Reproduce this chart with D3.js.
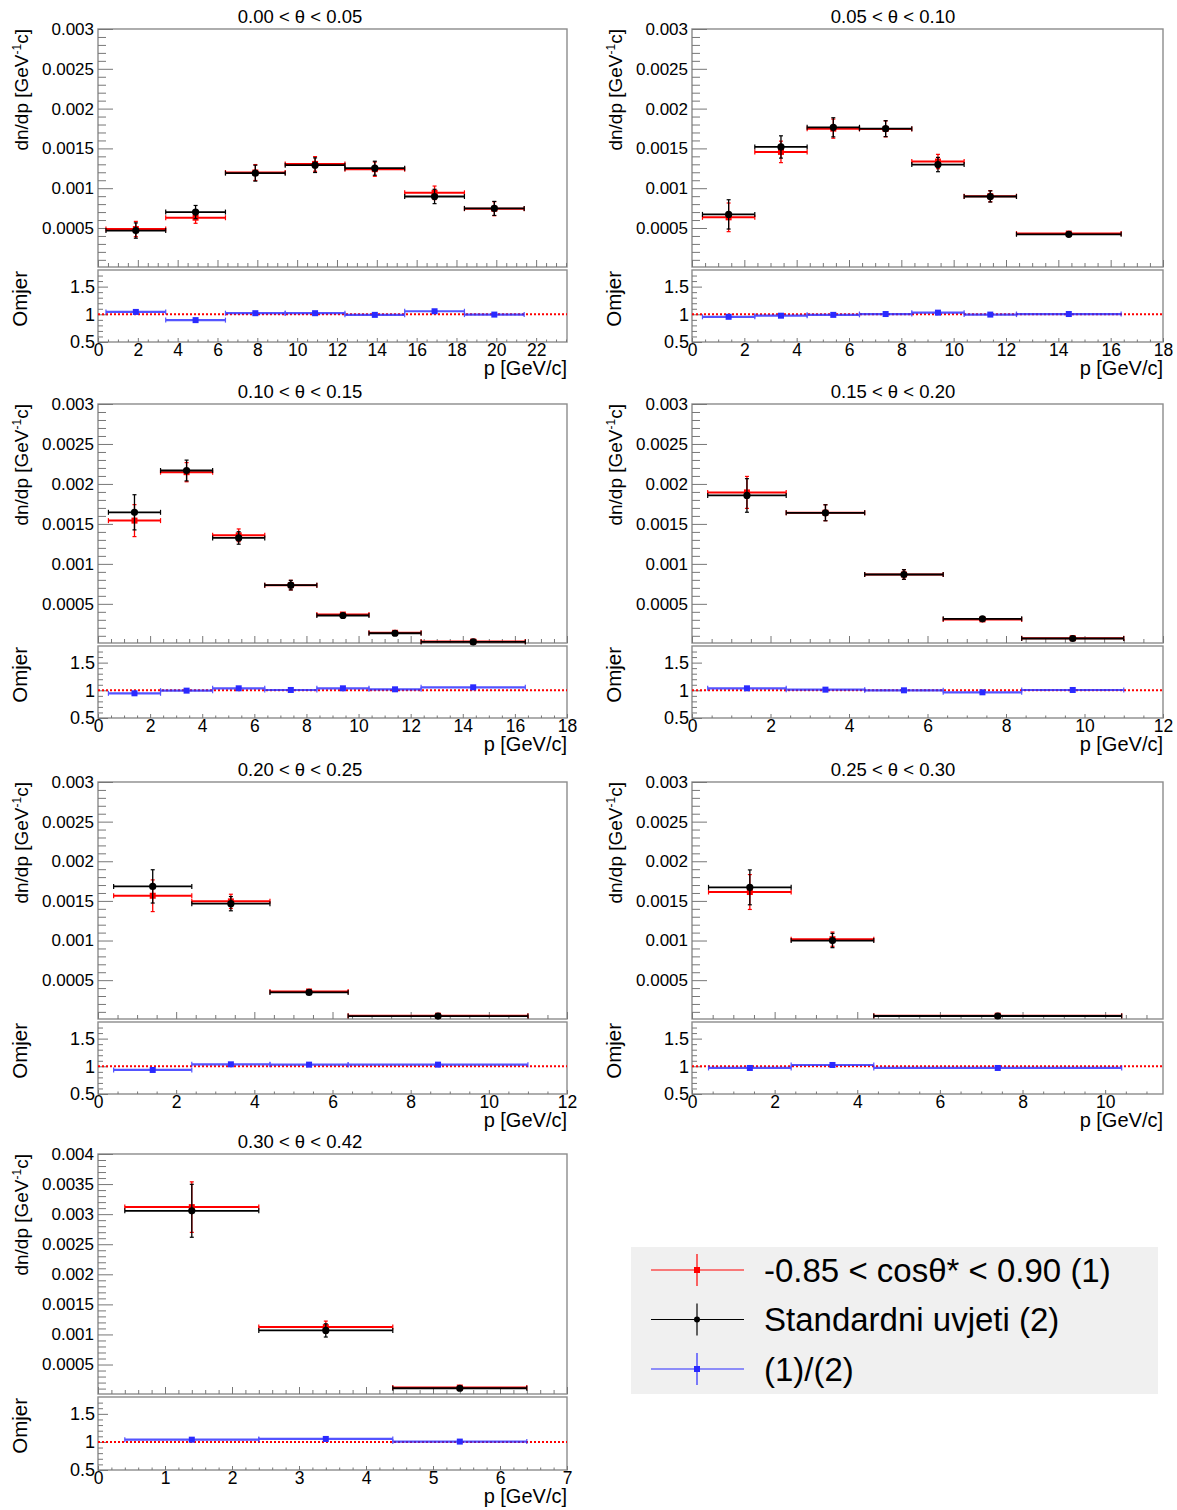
<!DOCTYPE html>
<html><head><meta charset="utf-8">
<script src="https://cdn.jsdelivr.net/npm/d3@7"></script>
<style>
body{margin:0;background:#fff}
svg{display:block}
text{font-family:"Liberation Sans",Arial,Helvetica,sans-serif;fill:#000}
</style>
</head><body>
<svg id="c" width="1177" height="1510"></svg>
<script>
// ---------------- DATA ----------------
const titles = ["0.00 < θ < 0.05","0.05 < θ < 0.10","0.10 < θ < 0.15","0.15 < θ < 0.20",
                "0.20 < θ < 0.25","0.25 < θ < 0.30","0.30 < θ < 0.42"];
const binEdges = [
  [0.4,3.4,6.4,9.4,12.4,15.4,18.4,21.4],
  [0.4,2.4,4.4,6.4,8.4,10.4,12.4,16.4],
  [0.4,2.4,4.4,6.4,8.4,10.4,12.4,16.4],
  [0.4,2.4,4.4,6.4,8.4,11.0],
  [0.4,2.4,4.4,6.4,11.0],
  [0.4,2.4,4.4,10.4],
  [0.4,2.4,4.4,6.4]
];
const xMax = [23.55,18,18,12,12,11.4,7];
const xMajorStep = [2,2,2,2,2,2,1];
const xMinorStep = [0.5,0.5,0.5,0.5,0.5,0.5,0.2];
const yMax = [0.003,0.003,0.003,0.003,0.003,0.003,0.004];
const ratioTicks = [0.5,1,1.5];

// series (1): -0.85 < cos theta* < 0.90  (red)
const cutVals = [
  [0.000487,0.000629,0.001197,0.001305,0.001239,0.000942,0.000742],
  [0.000634,0.001456,0.001748,0.001745,0.001335,0.000900,0.000430],
  [0.001541,0.002147,0.001357,0.000734,0.000366,0.000138,0.000028],
  [0.001894,0.001640,0.000867,0.000305,0.000070],
  [0.001565,0.001494,0.000357,0.000052],
  [0.001612,0.001017,0.000052],
  [0.003117,0.001122,0.000117]
];
const cutErrs = [
  [0.000096,0.000070,0.000100,0.000092,0.000090,0.000085,0.000088],
  [0.000180,0.000135,0.000120,0.000100,0.000090,0.000070,0.000020],
  [0.000200,0.000120,0.000080,0.000060,0.000020,0.000010,0.000005],
  [0.000200,0.000100,0.000060,0.000020,0.000010],
  [0.000200,0.000090,0.000020,0.000008],
  [0.000220,0.000090,0.000008],
  [0.000420,0.000100,0.000020]
];
// series (2): Standardni uvjeti (black)
const stdVals = [
  [0.000468,0.000700,0.001189,0.001289,0.001251,0.000896,0.000746],
  [0.000671,0.001518,0.001765,0.001748,0.001297,0.000896,0.000421],
  [0.001645,0.002168,0.001324,0.000734,0.000354,0.000132,0.000023],
  [0.001856,0.001639,0.000867,0.000312,0.000066],
  [0.001683,0.001465,0.000345,0.000047],
  [0.001671,0.001000,0.000048],
  [0.003056,0.001067,0.000106]
];
const stdErrs = [
  [0.000096,0.000083,0.000100,0.000092,0.000088,0.000090,0.000088],
  [0.000184,0.000140,0.000120,0.000100,0.000090,0.000070,0.000020],
  [0.000220,0.000130,0.000078,0.000060,0.000020,0.000010,0.000005],
  [0.000210,0.000100,0.000060,0.000020,0.000010],
  [0.000210,0.000090,0.000020,0.000008],
  [0.000220,0.000090,0.000008],
  [0.000440,0.000110,0.000020]
];
// ratio (1)/(2)  (blue)
const ratioVals = [
  [1.043,0.895,1.020,1.020,0.990,1.055,0.995],
  [0.955,0.975,0.990,1.005,1.030,0.995,1.005],
  [0.946,0.994,1.036,1.006,1.036,1.018,1.054],
  [1.036,1.012,1.000,0.964,1.006],
  [0.934,1.036,1.030,1.030],
  [0.970,1.024,0.970],
  [1.040,1.053,1.006]
];
const legendLabels = ["-0.85 < cosθ* < 0.90 (1)","Standardni uvjeti (2)","(1)/(2)"];

// ---------------- LAYOUT ----------------
const cols = [{x0:98,x1:567,tx:300,lab:70},{x0:692,x1:1163,tx:893,lab:70}];
const rows = [
  {mt:29,mb:267,rt:270,rb:342},
  {mt:404,mb:643,rt:646,rb:718},
  {mt:782,mb:1019,rt:1022,rb:1094},
  {mt:1154,mb:1394,rt:1397,rb:1470}
];
const RED="#ff0000", BLACK="#000000", BLUE="#2a2aff";
const TICK="#777", FRAME="#8c8c8c";

const svg = d3.select("#c");
const fmtY = d => String(+(+d).toFixed(5));

function rng(step, max, skipStep){
  const out=[]; const n=Math.floor(max/step+1e-6);
  for(let k=0;k<=n;k++){const v=+(k*step).toFixed(6); if(skipStep && Math.abs(v/skipStep-Math.round(v/skipStep))<1e-6) continue; out.push(v);}
  return out;
}

function styleAxis(g){
  g.select(".domain").remove();
  g.selectAll(".tick line").attr("stroke",TICK).attr("stroke-width",1);
}

function drawSeries(g, x, y, edges, vals, errs, color, marker, msize, hw, vw, opacity){
  const pts = vals.map((v,i)=>({lo:edges[i],hi:edges[i+1],c:(edges[i]+edges[i+1])/2,v:v,e:errs?errs[i]:0}));
  const s = g.append("g").attr("stroke",color).attr("fill","none").attr("opacity",opacity||1);
  s.selectAll("line.h").data(pts).join("line").attr("class","h")
    .attr("x1",d=>x(d.lo)).attr("x2",d=>x(d.hi)).attr("y1",d=>y(d.v)).attr("y2",d=>y(d.v))
    .attr("stroke-width",hw);
  s.selectAll("line.cl").data(pts).join("line").attr("class","cl")
    .attr("x1",d=>x(d.lo)).attr("x2",d=>x(d.lo)).attr("y1",d=>y(d.v)-2.5).attr("y2",d=>y(d.v)+2.5).attr("stroke-width",1.2);
  s.selectAll("line.cr").data(pts).join("line").attr("class","cr")
    .attr("x1",d=>x(d.hi)).attr("x2",d=>x(d.hi)).attr("y1",d=>y(d.v)-2.5).attr("y2",d=>y(d.v)+2.5).attr("stroke-width",1.2);
  if(errs){
    s.selectAll("line.v").data(pts).join("line").attr("class","v")
      .attr("x1",d=>x(d.c)).attr("x2",d=>x(d.c)).attr("y1",d=>y(d.v-d.e)).attr("y2",d=>y(d.v+d.e))
      .attr("stroke-width",vw);
    s.selectAll("line.ct").data(pts).join("line").attr("class","ct")
      .attr("x1",d=>x(d.c)-2).attr("x2",d=>x(d.c)+2).attr("y1",d=>y(d.v+d.e)).attr("y2",d=>y(d.v+d.e)).attr("stroke-width",1.2);
    s.selectAll("line.cb").data(pts).join("line").attr("class","cb")
      .attr("x1",d=>x(d.c)-2).attr("x2",d=>x(d.c)+2).attr("y1",d=>y(d.v-d.e)).attr("y2",d=>y(d.v-d.e)).attr("stroke-width",1.2);
  }
  const m = g.append("g").attr("fill",color);
  if(marker==="circle"){
    m.selectAll("circle").data(pts).join("circle").attr("cx",d=>x(d.c)).attr("cy",d=>y(d.v)).attr("r",msize);
  } else {
    m.selectAll("rect").data(pts).join("rect").attr("x",d=>x(d.c)-msize/2).attr("y",d=>y(d.v)-msize/2)
      .attr("width",msize).attr("height",msize);
  }
}

titles.forEach((title,i)=>{
  const c = cols[i%2], r = rows[Math.floor(i/2)];
  const x = d3.scaleLinear().domain([0,xMax[i]]).range([c.x0,c.x1]);
  const y = d3.scaleLinear().domain([0.00001,yMax[i]]).range([r.mb,r.mt]);
  const yr = d3.scaleLinear().domain([0.5,1.8]).range([r.rb,r.rt]);
  const g = svg.append("g");

  g.append("text").attr("x",c.tx).attr("y",r.mt-6).attr("text-anchor","middle")
    .attr("font-size",18.5).text(title);

  g.append("rect").attr("x",c.x0).attr("y",r.mt).attr("width",c.x1-c.x0).attr("height",r.mb-r.mt)
    .attr("fill","none").attr("stroke",FRAME).attr("stroke-width",1.4);
  g.append("rect").attr("x",c.x0).attr("y",r.rt).attr("width",c.x1-c.x0).attr("height",r.rb-r.rt)
    .attr("fill","none").attr("stroke",FRAME).attr("stroke-width",1.4);

  const yMaj = rng(0.0005,yMax[i]).filter(v=>v>0);
  const yMin = rng(0.0001,yMax[i],0.0005).filter(v=>v>0);
  const gyMin = g.append("g").attr("transform",`translate(${c.x0},0)`)
    .call(d3.axisLeft(y).tickValues(yMin).tickSize(-8).tickFormat(""));
  styleAxis(gyMin);
  const gy = g.append("g").attr("transform",`translate(${c.x0},0)`)
    .call(d3.axisLeft(y).tickValues(yMaj).tickSize(-15).tickPadding(4).tickFormat(fmtY));
  styleAxis(gy);
  gy.selectAll("text").attr("font-size",17).attr("font-family",null).attr("fill","#000");

  const xMajV = rng(xMajorStep[i],xMax[i]);
  const xMinV = rng(xMinorStep[i],xMax[i],xMajorStep[i]);
  const gxm1 = g.append("g").attr("transform",`translate(0,${r.mb})`)
    .call(d3.axisBottom(x).tickValues(xMinV).tickSize(-4).tickFormat(""));
  styleAxis(gxm1);
  const gxm2 = g.append("g").attr("transform",`translate(0,${r.mb})`)
    .call(d3.axisBottom(x).tickValues(xMajV).tickSize(-7).tickFormat(""));
  styleAxis(gxm2);

  const rMin = [0.6,0.7,0.8,0.9,1.1,1.2,1.3,1.4,1.6,1.7];
  const gr1 = g.append("g").attr("transform",`translate(${c.x0},0)`)
    .call(d3.axisLeft(yr).tickValues(rMin).tickSize(-5).tickFormat(""));
  styleAxis(gr1);
  const gr2 = g.append("g").attr("transform",`translate(${c.x0},0)`)
    .call(d3.axisLeft(yr).tickValues(ratioTicks).tickSize(-10).tickPadding(3).tickFormat(d=>String(d)));
  styleAxis(gr2);
  gr2.selectAll("text").attr("font-size",18).attr("font-family",null).attr("fill","#000");

  const grx1 = g.append("g").attr("transform",`translate(0,${r.rb})`)
    .call(d3.axisBottom(x).tickValues(xMinV).tickSize(-2.5).tickFormat(""));
  styleAxis(grx1);
  const grx2 = g.append("g").attr("transform",`translate(0,${r.rb})`)
    .call(d3.axisBottom(x).tickValues(xMajV).tickSize(-4).tickPadding(2).tickFormat(d=>String(d)));
  styleAxis(grx2);
  grx2.selectAll("text").attr("font-size",17.5).attr("font-family",null).attr("fill","#000");

  const yt = g.append("text").attr("transform",`translate(${c.x0-c.lab},${r.mt}) rotate(-90)`)
    .attr("text-anchor","end").attr("font-size",19);
  yt.append("tspan").text("dn/dp [GeV");
  yt.append("tspan").attr("font-size",12).attr("dy",-7).text("-1");
  yt.append("tspan").attr("dy",7).text("c]");
  g.append("text").attr("transform",`translate(${c.x0-71},${r.rt+1}) rotate(-90)`)
    .attr("text-anchor","end").attr("font-size",20.5).text("Omjer");
  g.append("text").attr("x",c.x1).attr("y",r.rb+33).attr("text-anchor","end")
    .attr("font-size",20).text("p [GeV/c]");

  const edges = binEdges[i];
  drawSeries(g, x, y, edges, cutVals[i], cutErrs[i], RED, "square", 6, 2, 1.3);
  drawSeries(g, x, y, edges, stdVals[i], stdErrs[i], BLACK, "circle", 3.6, 1.8, 1.3);

  g.append("line").attr("x1",c.x0).attr("x2",c.x1).attr("y1",yr(1)).attr("y2",yr(1))
    .attr("stroke",RED).attr("stroke-width",2).attr("stroke-dasharray","2,2");
  drawSeries(g, x, yr, edges, ratioVals[i], null, BLUE, "square", 6, 2.2, 1.2, 0.8);
});

// ---------------- LEGEND ----------------
const leg = svg.append("g");
leg.append("rect").attr("x",631).attr("y",1247).attr("width",527).attr("height",147).attr("fill","#f0f0f0");
const legY = d3.scalePoint().domain(legendLabels).range([1270,1369]);
const legColors = [RED,BLACK,BLUE];
const legMarkers = ["square","circle","square"];
legendLabels.forEach((lab,k)=>{
  const yy = legY(lab), col = legColors[k];
  leg.append("line").attr("x1",651).attr("x2",744).attr("y1",yy).attr("y2",yy).attr("stroke",col).attr("stroke-width",1.2);
  leg.append("line").attr("x1",697).attr("x2",697).attr("y1",yy-16).attr("y2",yy+16).attr("stroke",col).attr("stroke-width",1.2);
  if(legMarkers[k]==="circle") leg.append("circle").attr("cx",697).attr("cy",yy).attr("r",3).attr("fill",col);
  else leg.append("rect").attr("x",694).attr("y",yy-3).attr("width",6).attr("height",6).attr("fill",col);
  leg.append("text").attr("x",764).attr("y",yy).attr("dy","0.36em").attr("font-size",33).text(lab);
});
</script>
</body></html>
